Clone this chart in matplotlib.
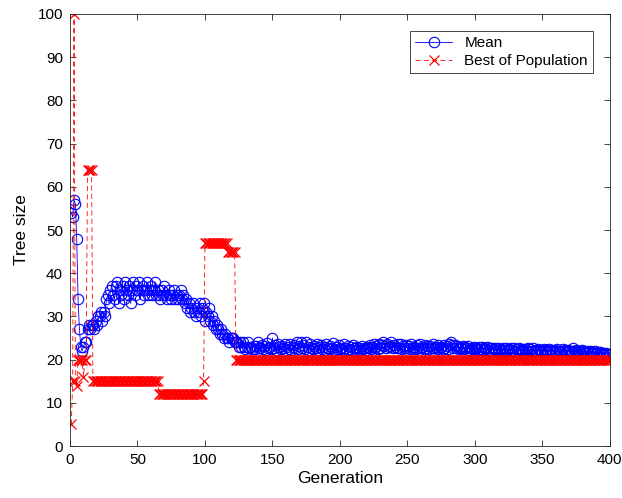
from matplotlib import pyplot as plt

plt.rcParams['font.family'] = ['Liberation Sans', 'DejaVu Sans']

# mean tree size per generation (gens 1..400)
mean_size = [
    54, 53, 57, 56, 48, 34, 27, 23, 22, 23, 24, 24, 27, 28, 27, 28, 28, 27, 29, 28,
    30, 30, 31, 29, 31, 30, 34, 35, 33, 36, 37, 35, 34, 37, 38, 33, 36, 35, 37, 34,
    38, 36, 35, 37, 33, 36, 38, 35, 37, 36, 38, 34, 36, 37, 35, 36, 38, 35, 36, 37,
    35, 36, 38, 35, 36, 35, 34, 36, 35, 37, 35, 34, 36, 35, 34, 35, 36, 34, 35, 34,
    35, 36, 34, 35, 33, 34, 32, 33, 31, 32, 33, 31, 30, 32, 31, 33, 30, 32, 33, 29,
    31, 30, 32, 29, 30, 28, 29, 27, 28, 27, 26, 27, 26, 25, 26, 25, 25, 24, 25, 25,
    25, 24, 24, 24, 23, 24, 23, 24, 23, 22.5, 23, 24, 22.6, 23, 22.4, 23.2, 22.5, 23.1, 24, 22.6,
    22.8, 23.4, 22.5, 23.1, 22.3, 23.8, 22.6, 23.0, 22.4, 25.0, 22.7, 23.3, 22.2, 23.5, 22.9, 22.4, 23.2, 22.6, 23.7, 22.3,
    23.0, 22.5, 23.6, 22.2, 22.9, 23.4, 22.6, 24.0, 22.4, 23.1, 24.1, 22.7, 23.3, 22.5, 24.0, 23.0, 22.3, 23.5, 22.8, 22.4,
    23.2, 22.6, 23.7, 22.3, 22.9, 23.4, 22.5, 23.0, 22.2, 23.6, 22.7, 22.4, 23.1, 22.6, 23.8, 22.3, 22.9, 22.5, 23.3, 22.4,
    22.8, 22.3, 23.5, 22.6, 22.2, 23.1, 22.5, 22.9, 22.3, 23.4, 22.7, 22.2, 23.0, 22.6, 22.3, 23.2, 22.5, 22.8, 22.2, 23.0,
    22.6, 23.3, 22.4, 22.9, 23.5, 22.7, 23.1, 22.5, 23.6, 22.8, 23.3, 24.0, 23.2, 22.7, 23.5, 22.9, 23.2, 24.0, 22.8, 23.4,
    23.0, 22.6, 23.5, 22.8, 23.7, 22.5, 23.2, 22.7, 23.4, 22.6, 23.1, 22.4, 23.5, 22.8, 23.0, 22.5, 23.3, 22.7, 23.6, 22.6,
    23.0, 22.5, 23.4, 22.7, 23.1, 22.4, 23.2, 22.8, 23.5, 22.6, 23.0, 22.4, 23.3, 22.7, 22.9, 22.5, 23.4, 22.6, 23.1, 22.5,
    23.6, 24.0, 23.3, 22.8, 23.4, 22.6, 23.1, 22.5, 23.0, 22.7, 23.2, 22.4, 22.9, 22.6, 23.1, 22.3, 22.8, 22.5, 23.0, 22.4,
    22.8, 22.3, 22.9, 22.5, 23.0, 22.2, 22.7, 22.4, 22.9, 22.3, 22.6, 22.1, 22.8, 22.4, 22.6, 22.2, 22.7, 22.3, 22.5, 22.1,
    22.6, 22.2, 22.8, 22.3, 22.5, 22.0, 22.6, 22.2, 22.7, 22.1, 22.4, 22.0, 22.6, 22.2, 22.5, 21.9, 22.4, 22.1, 22.6, 22.0,
    22.4, 22.1, 22.6, 21.9, 22.3, 22.0, 22.5, 22.1, 22.3, 21.8, 22.4, 22.0, 22.2, 21.9, 22.5, 22.0, 22.3, 21.8, 22.2, 22.0,
    22.4, 21.9, 22.1, 21.8, 22.5, 21.9, 22.2, 21.7, 22.3, 21.9, 22.1, 21.8, 22.6, 21.9, 22.2, 21.7, 22.0, 21.8, 22.2, 21.7,
    21.9, 21.6, 22.0, 21.7, 21.9, 21.5, 21.8, 21.6, 21.9, 21.5, 21.7, 21.4, 21.8, 21.5, 21.6, 21.3, 21.5, 21.2, 21.4, 21.1,
]

# best of population: flat stretches
best_size = ([5, 15, 100, 15, 14, 20, 20, 20, 20, 16, 20, 20, 64, 64, 64, 64]
             + [15] * 49 + [12] * 33 + [15] + [47] * 17 + [45] * 6 + [20] * 278)

generations = list(range(1, len(mean_size) + 1))

fig = plt.figure(figsize=(6.22, 4.98), dpi=100)
ax = fig.add_axes([0.1125, 0.1044, 0.868, 0.8675])

ax.plot(generations, mean_size, color='blue', linestyle='-', linewidth=0.6,
        marker='o', markersize=7.5, markerfacecolor='none', markeredgewidth=0.8,
        label='Mean')
ax.plot(generations, best_size, color='red', linestyle=(0, (6, 4)), linewidth=0.6,
        marker='x', markersize=7.5, markeredgewidth=0.9, label='Best of Population')

ax.set_xlim(0, 400)
ax.set_ylim(0, 100)
ax.set_xticks(range(0, 401, 50))
ax.set_yticks(range(0, 101, 10))
ax.set_xlabel('Generation', fontsize=12.5, labelpad=3)
ax.set_ylabel('Tree size', fontsize=12.5, labelpad=6)

gray = (0.15, 0.15, 0.15)
for side in ax.spines.values():
    side.set_color(gray)
    side.set_linewidth(0.6)
ax.tick_params(direction='in', length=4, width=0.6, colors=gray, labelsize=11,
               top=True, right=True, labelcolor='black', pad=5)

leg = ax.legend(loc='upper right', bbox_to_anchor=(0.969, 0.961), borderaxespad=0,
                fontsize=11, fancybox=False, framealpha=1, edgecolor=gray,
                handlelength=2.4, borderpad=0.35, labelspacing=0.25)
leg.get_frame().set_linewidth(0.6)

fig.savefig('out.png')
